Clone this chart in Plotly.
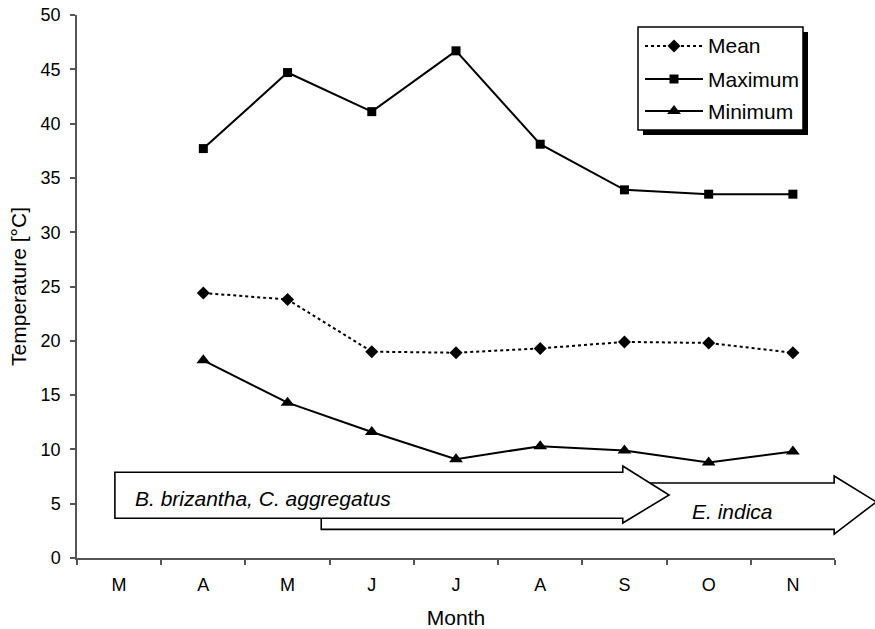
import plotly.graph_objects as go

# ---------------- data ----------------
months = ["M", "A", "M", "J", "J", "A", "S", "O", "N"]
x_mean = [1, 2, 3, 4, 5, 6, 7, 8]
mean_t = [24.4, 23.8, 19.0, 18.9, 19.3, 19.9, 19.8, 18.9]
max_t = [37.7, 44.7, 41.1, 46.7, 38.1, 33.9, 33.5, 33.5]
min_t = [18.2, 14.3, 11.6, 9.1, 10.3, 9.9, 8.8, 9.8]
series_names = ["Mean", "Maximum", "Minimum"]
arrow_labels = ["B. brizantha, C. aggregatus", "E. indica"]
y_ticks = [0, 5, 10, 15, 20, 25, 30, 35, 40, 45, 50]

FONT = "Liberation Sans, Arial, sans-serif"
XR = (-0.5, 8.5)
YR = (0, 50)

fig = go.Figure()

line_specs = [
    (mean_t, dict(dash="dot", width=2), dict(symbol="diamond", size=10)),
    (max_t, dict(width=2), dict(symbol="square", size=9)),
    (min_t, dict(width=2), dict(symbol="triangle-up", size=12)),
]
for vals, ln, mk in line_specs:
    fig.add_trace(go.Scatter(
        x=x_mean, y=vals, mode="lines+markers",
        line=dict(color="black", **ln),
        marker=dict(color="black", **mk),
        showlegend=False, cliponaxis=False,
    ))


def px(xv):
    return (xv - XR[0]) / (XR[1] - XR[0])


def py(yv):
    return (yv - YR[0]) / (YR[1] - YR[0])


def arrow_path(x0, xb, xt, yb0, yb1, yh0, yh1, ytip):
    pts = [(x0, yb1), (xb, yb1), (xb, yh1), (xt, ytip), (xb, yh0), (xb, yb0), (x0, yb0)]
    d = "M " + " L ".join(f"{px(a):.5f},{py(b):.5f}" for a, b in pts) + " Z"
    return d


# arrows (in data units, converted to paper coordinates so they can extend past the axes)
arrow2 = arrow_path(2.40, 8.49, 8.99, 2.64, 6.90, 2.20, 7.55, 5.16)
arrow1 = arrow_path(-0.05, 5.98, 6.53, 3.66, 7.89, 3.22, 8.47, 5.80)
shapes = []
for d in (arrow2, arrow1):
    shapes.append(dict(type="path", xref="paper", yref="paper", path=d,
                       fillcolor="white", line=dict(color="black", width=1.6), layer="above"))

# legend box with shadow (pixel -> paper conversions)
L, T, W, H = 77, 15, 758, 543


def ppx(p):
    return (p - L) / W


def ppy(p):
    return (T + H - p) / H


shapes.append(dict(type="rect", xref="paper", yref="paper",
                   x0=ppx(643), x1=ppx(808), y0=ppy(135), y1=ppy(32),
                   fillcolor="black", line=dict(width=0), layer="below"))
shapes.append(dict(type="rect", xref="paper", yref="paper",
                   x0=ppx(638), x1=ppx(803), y0=ppy(130), y1=ppy(27),
                   fillcolor="white", line=dict(color="black", width=1.5), layer="below"))

annotations = [
    dict(text=f"<i>{arrow_labels[0]}</i>", xref="paper", yref="paper", x=ppx(133), y=ppy(499),
         xanchor="left", yanchor="middle", showarrow=False, font=dict(family=FONT, size=21, color="black")),
    dict(text=f"<i>{arrow_labels[1]}</i>", xref="paper", yref="paper", x=ppx(690), y=ppy(511),
         xanchor="left", yanchor="middle", showarrow=False, font=dict(family=FONT, size=21, color="black")),
]

# manual legend entries drawn on an auxiliary pixel-unit subplot
leg_rows = [46, 79, 111]
for name, (vals, ln, mk), ry in zip(series_names, line_specs, leg_rows):
    fig.add_trace(go.Scatter(
        x=[645, 674, 703], y=[ry, ry, ry], mode="lines",
        line=dict(color="black", **ln), xaxis="x3", yaxis="y3", showlegend=False,
        hoverinfo="skip",
    ))
    fig.add_trace(go.Scatter(
        x=[674], y=[ry], mode="markers", marker=dict(color="black", **mk),
        xaxis="x3", yaxis="y3", showlegend=False, hoverinfo="skip", cliponaxis=False,
    ))
    annotations.append(dict(text=name, xref="paper", yref="paper", x=ppx(706), y=ppy(ry),
                            xanchor="left", yanchor="middle", showarrow=False,
                            font=dict(family=FONT, size=21, color="black")))

fig.update_layout(
    width=875, height=629,
    margin=dict(l=L, r=875 - L - W, t=T, b=629 - T - H, autoexpand=False),
    paper_bgcolor="white", plot_bgcolor="rgba(0,0,0,0)",
    font=dict(family=FONT, color="black"),
    showlegend=False,
    shapes=shapes,
    annotations=annotations,
    xaxis=dict(
        range=list(XR), tickmode="array", tickvals=list(range(len(months))), ticktext=months,
        ticks="", showgrid=False, zeroline=False, showline=True, linecolor="#555", linewidth=1.5,
        tickfont=dict(size=18, family=FONT, color="black"), ticklabelstandoff=10, automargin=False,
        minor=dict(tickmode="array", tickvals=[i - 0.5 for i in range(len(months) + 1)],
                   ticks="outside", ticklen=5, tickcolor="#555", tickwidth=1.5, showgrid=False),
        title=dict(text="Month", font=dict(size=21, family=FONT, color="black"), standoff=20),
    ),
    yaxis=dict(
        range=list(YR), tickmode="array", tickvals=y_ticks, automargin=False,
        ticks="outside", ticklen=5, tickcolor="#555", tickwidth=1.5,
        showgrid=False, zeroline=False, showline=True, linecolor="#555", linewidth=1.5,
        tickfont=dict(size=18, family=FONT, color="black"), ticklabelstandoff=6,
        title=dict(text="Temperature [°C]", font=dict(size=21, family=FONT, color="black"), standoff=8),
    ),
    xaxis3=dict(domain=[ppx(638), ppx(803)], range=[638, 803], visible=False, anchor="y3",
                fixedrange=True),
    yaxis3=dict(domain=[ppy(130), ppy(27)], range=[130, 27], visible=False, anchor="x3",
                fixedrange=True),
)

fig.write_html("out.html")
